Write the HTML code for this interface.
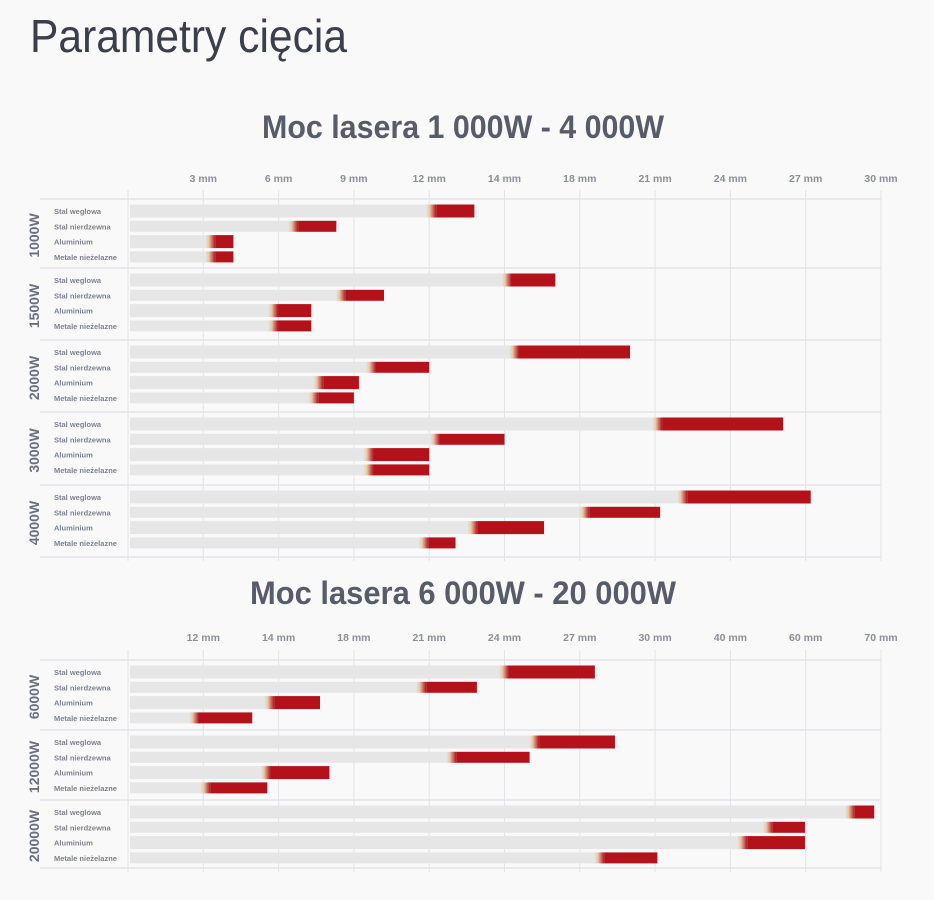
<!DOCTYPE html>
<html><head><meta charset="utf-8">
<style>
body{margin:0;background:#f9f9fa;width:934px;height:900px;overflow:hidden;font-family:"Liberation Sans",sans-serif}
svg{display:block}
</style></head>
<body>
<svg id="c" width="934" height="900">
<defs>
<linearGradient id="fade" x1="0" x2="1" y1="0" y2="0">
<stop offset="0" stop-color="#e6e6e6"/><stop offset="0.35" stop-color="#e8c9a8"/><stop offset="1" stop-color="#b3121b"/>
</linearGradient>
</defs>
<text x="30" y="52" font-size="46" fill="#3a3f4b" font-weight="300" textLength="317" lengthAdjust="spacingAndGlyphs">Parametry cięcia</text>
</svg>
<script>
const materials=["Stal weglowa","Stal nierdzewna","Aluminium","Metale nieżelazne"];
const ticks1=[0,3,6,9,12,14,18,21,24,27,30];
const tickLabels1=["3 mm","6 mm","9 mm","12 mm","14 mm","18 mm","21 mm","24 mm","27 mm","30 mm"];
const groups1=["1000W","1500W","2000W","3000W","4000W"];
const redStart1=[[12,6.5,3.2,3.2],[14,8.4,5.7,5.7],[14.4,9.6,7.5,7.3],[21,12.1,9.5,9.5],[22,18.1,13.1,11.7]];
const redEnd1=[[13.2,8.3,4.2,4.2],[16.7,10.2,7.3,7.3],[20,12,9.2,9],[26.1,14,12,12],[27.2,21.2,16.1,12.7]];
const ticks2=[0,12,14,18,21,24,27,30,40,60,70];
const tickLabels2=["12 mm","14 mm","18 mm","21 mm","24 mm","27 mm","30 mm","40 mm","60 mm","70 mm"];
const groups2=["6000W","12000W","20000W"];
const redStart2=[[23.9,20.6,13.7,10.2],[25.1,21.8,13.6,12],[65.6,49.4,42.6,27.7]];
const redEnd2=[[27.6,22.9,16.2,13.3],[28.4,25,16.7,13.7],[69.1,59.8,59.8,30.3]];

const NS="http://www.w3.org/2000/svg";
const svg=document.getElementById('c');
function mk(tag,attrs,parent){const e=document.createElementNS(NS,tag);for(const k in attrs)e.setAttribute(k,attrs[k]);(parent||svg).appendChild(e);return e;}
const X0=128,STEP=75.3;
function scale(ticks,v){for(let i=1;i<ticks.length;i++){if(v<=ticks[i]){return X0+STEP*(i-1+(v-ticks[i-1])/(ticks[i]-ticks[i-1]));}}return X0+STEP*(ticks.length-1);}

function panel(name,title,titleY,titleX,titleW,tickY,top,groupTops,ticks,tickLabels,groups,rs,re){
  const g=mk('g',{});
  
  
  const t=mk('text',{x:titleX,y:titleY,'font-size':32,'font-weight':'bold',fill:'#575c6b',textLength:titleW,lengthAdjust:'spacingAndGlyphs'},g);
  t.textContent=title;
  
  
  const bottom=groupTops[groupTops.length-1];
  for(let i=0;i<ticks.length;i++){
    const x=X0+STEP*i;
    const l=mk('line',{x1:x,x2:x,y1:top,y2:bottom+4,stroke:'#e3e4e8','stroke-width':1},g);
    
    
    if(i>0){
      const tl=mk('text',{x:x,y:tickY,'font-size':10.5,'font-weight':'bold',fill:'#8a8f9c','text-anchor':'middle'},g);
      tl.textContent=tickLabels[i-1];
      
      
    }
  }
  groupTops.forEach((y,i)=>{
    const l=mk('line',{x1:40,x2:881,y1:y,y2:y,stroke:'#e3e4e8','stroke-width':1.5},g);
    
    
  });
  groups.forEach((gn,gi)=>{
    const y0=groupTops[gi],y1=groupTops[gi+1];
    const cy=(y0+y1)/2;
    const gl=mk('text',{x:0,y:0,'font-size':14,'font-weight':'bold',fill:'#6b7080','text-anchor':'middle',transform:`translate(39,${cy+2}) rotate(-90)`},g);
    gl.textContent=gn;
    
    
    materials.forEach((m,mi)=>{
      const ry=y0+12+mi*15.3;
      const ml=mk('text',{x:54,y:ry+3,'font-size':7.5,'font-weight':'bold',fill:'#7d8290'},g);
      ml.textContent=m;
      
      
      const bh=(mi%2===0)?13:11;
      const xs=scale(ticks,rs[gi][mi]),xe=scale(ticks,re[gi][mi]);
      const gb=mk('rect',{x:130,y:ry-bh/2,width:Math.max(0,xs-130),height:bh,fill:'#e6e6e6'},g);
      
      
      const fw=Math.min(10,(xe-xs)*0.4);
      const fb=mk('rect',{x:xs-3,y:ry-bh/2,width:fw,height:bh,fill:'url(#fade)'},g);
      
      
      const rb=mk('rect',{x:xs-3+fw,y:ry-bh/2,width:Math.max(0,xe-(xs-3+fw)),height:bh,fill:'#b3121b'},g);
      
      
    });
  });
}
panel('panel-1000-4000w','Moc lasera 1 000W - 4 000W',138,262,402,182,190,[199,268,340,412,485,557],ticks1,tickLabels1,groups1,redStart1,redEnd1);
panel('panel-6000-20000w','Moc lasera 6 000W - 20 000W',604,250,426,641,650,[660,730,800,868],ticks2,tickLabels2,groups2,redStart2,redEnd2);
</script>
</body></html>
